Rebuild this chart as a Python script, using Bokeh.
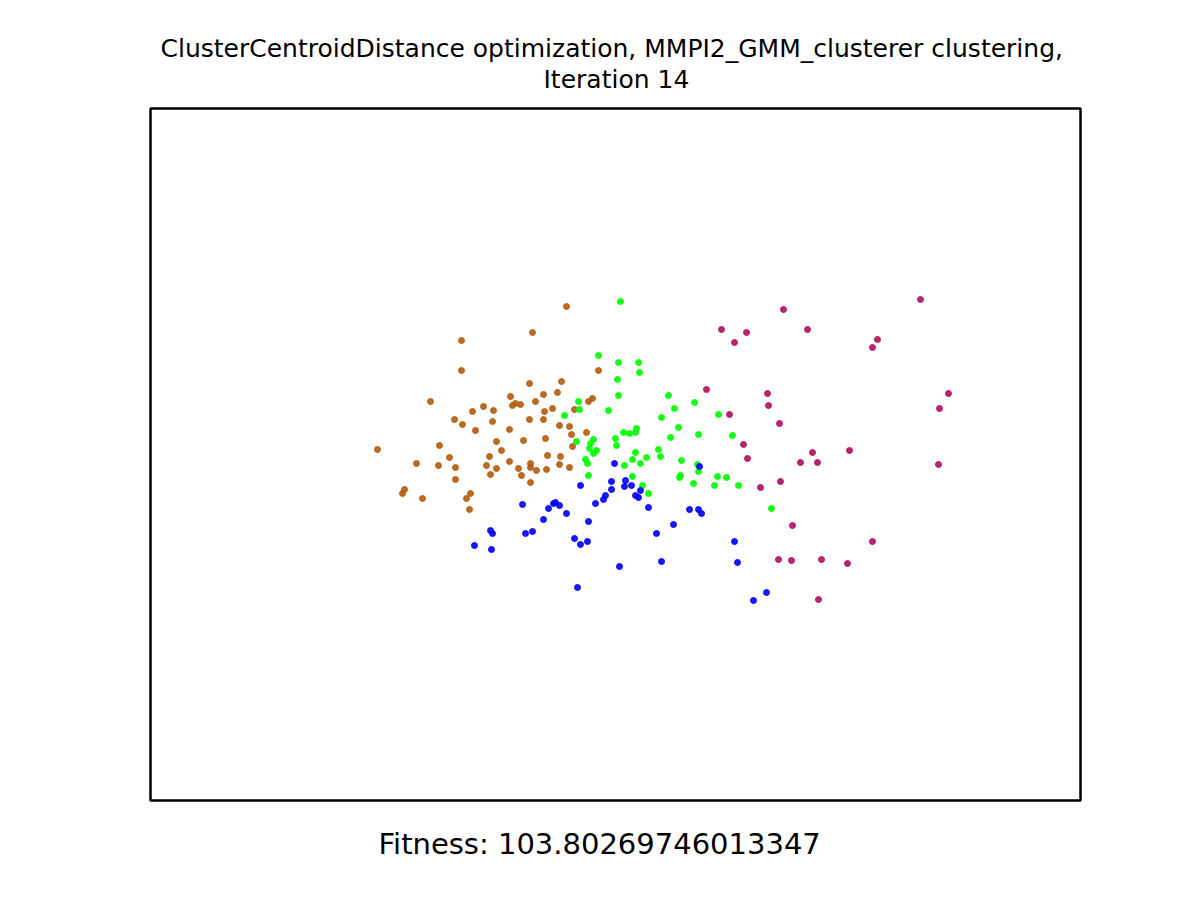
from bokeh.plotting import figure
from bokeh.models import Range1d, Title
from bokeh.embed import file_html
from bokeh.resources import INLINE

# cluster points (arbitrary projected units, axes are hidden)
brown_x = [532, 461, 461, 430, 529, 561, 510, 543, 557, 535, 515, 512, 520, 483, 493, 472, 544, 552,
           454, 462, 475, 492, 509, 529, 543, 559, 523, 545, 496, 501, 439, 377, 489, 547, 560, 416,
           449, 438, 455, 486, 496, 509, 518, 530, 530, 536, 546, 559, 569, 490, 521, 455, 530, 404,
           402, 422, 470, 466, 469, 566, 598, 592, 588, 574, 569, 571, 586, 572]
brown_y = [568, 560, 530, 499, 517, 519, 504, 506, 508, 499, 497, 495, 496, 494, 490, 489, 489, 492,
           481, 476, 470, 479, 471, 481, 481, 475, 460, 462, 459, 450, 455, 451, 444, 445, 444, 437,
           443, 435, 433, 435, 432, 439, 432, 437, 433, 430, 431, 436, 433, 426, 425, 421, 418, 411,
           407, 402, 407, 402, 391, 594, 530, 502, 499, 491, 474, 466, 468, 454]

green_x = [620, 598, 618, 638, 639, 617, 618, 668, 578, 579, 564, 608, 674, 661, 694, 718, 678, 670,
           698, 732, 623, 629, 635, 636, 615, 616, 593, 590, 576, 589, 593, 596, 635, 658, 660, 646,
           632, 640, 624, 585, 587, 681, 697, 698, 680, 679, 717, 726, 693, 714, 738, 588, 632, 642,
           648, 771]
green_y = [599, 545, 538, 538, 528, 521, 505, 505, 499, 491, 485, 490, 492, 483, 498, 486, 473, 463,
           466, 465, 468, 467, 468, 472, 462, 455, 461, 457, 459, 452, 447, 450, 448, 451, 444, 443,
           441, 437, 435, 441, 437, 440, 436, 429, 425, 423, 424, 423, 417, 415, 415, 425, 424, 415,
           407, 392]

blue_x = [614, 699, 580, 611, 625, 611, 624, 631, 640, 635, 638, 605, 603, 595, 648, 689, 698, 701,
          522, 490, 492, 525, 532, 543, 548, 553, 555, 559, 474, 491, 566, 588, 673, 656, 574, 580,
          587, 734, 619, 661, 737, 577, 766, 753]
blue_y = [437, 434, 415, 419, 420, 411, 414, 415, 410, 405, 403, 405, 401, 397, 393, 391, 391, 387,
          396, 370, 367, 367, 369, 381, 392, 397, 398, 395, 355, 351, 387, 379, 376, 367, 362, 356,
          359, 359, 334, 339, 338, 313, 308, 300]

magenta_x = [920, 783, 721, 746, 734, 807, 877, 872, 767, 768, 706, 729, 779, 948, 939, 743, 747, 812,
             849, 800, 817, 938, 780, 760, 792, 872, 778, 791, 821, 847, 818]
magenta_y = [601, 591, 571, 568, 558, 571, 561, 553, 507, 495, 511, 486, 477, 507, 492, 456, 442, 448,
             450, 438, 438, 436, 419, 413, 375, 359, 341, 340, 341, 337, 301]

clusters = [
    (brown_x, brown_y, "#b35c0f"),
    (green_x, green_y, "#00ff00"),
    (blue_x, blue_y, "#0000ff"),
    (magenta_x, magenta_y, "#b0105e"),
]

title_lines = ["ClusterCentroidDistance optimization, MMPI2_GMM_clusterer clustering,", "Iteration 14"]
fitness_text = "Fitness: 103.80269746013347"

p = figure(width=1184, height=884, output_backend="svg", toolbar_location=None,
           x_range=Range1d(150, 1080), y_range=Range1d(100, 792),
           min_border_left=150, min_border_right=104, min_border_top=108, min_border_bottom=84)
p.axis.visible = False
p.grid.visible = False
p.outline_line_color = "black"
p.outline_line_width = 2.5
p.background_fill_color = "white"
p.border_fill_color = "white"

for xs, ys, col in clusters:
    p.scatter(xs, ys, size=6, fill_color=col, line_color=col, fill_alpha=0.9,
              line_alpha=0.9, line_width=1)

# main title holds the first line (outer), the added one sits next to the frame
p.title.text = title_lines[0]
p.title.align = "left"
p.title.offset = 10
p.title.text_font = "DejaVu Sans"
p.title.text_font_style = "normal"
p.title.text_font_size = "25px"
p.title.text_color = "black"
p.title.standoff = -31

second = Title(text=title_lines[1], align="left", offset=393, text_font="DejaVu Sans",
               text_font_style="normal", text_font_size="25px", text_color="black", standoff=30)
p.add_layout(second, "above")

fit = Title(text=fitness_text, align="left", offset=228, text_font="DejaVu Sans",
            text_font_style="normal", text_font_size="29px", text_color="black", standoff=48)
p.add_layout(fit, "below")

open("out.html", "w").write(file_html(p, INLINE))
